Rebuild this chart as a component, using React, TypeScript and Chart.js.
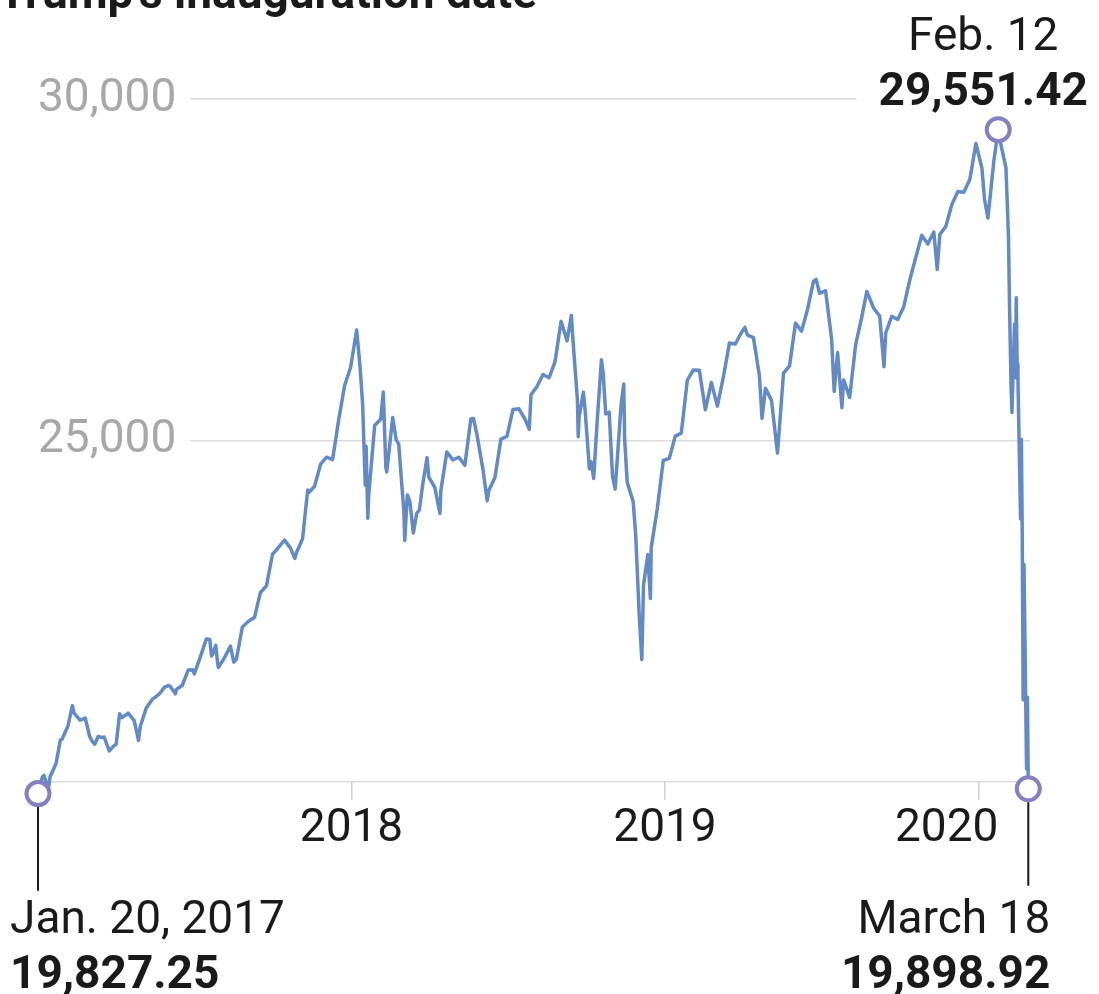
import React, { useEffect, useRef } from "react";
import { Chart, registerables } from "chart.js";

Chart.register(...registerables);

// Dow Jones Industrial Average closes
const dates: string[] = [
  "2017-01-20","2017-01-25","2017-01-27","2017-02-01","2017-02-03","2017-02-10","2017-02-15","2017-02-17","2017-02-24","2017-03-01",
  "2017-03-03","2017-03-10","2017-03-16","2017-03-21","2017-03-24","2017-03-27","2017-03-31","2017-04-05","2017-04-07","2017-04-13",
  "2017-04-18","2017-04-21","2017-04-25","2017-04-28","2017-05-05","2017-05-12","2017-05-17","2017-05-19","2017-05-26","2017-06-02",
  "2017-06-09","2017-06-13","2017-06-16","2017-06-21","2017-06-23","2017-06-29","2017-06-30","2017-07-07","2017-07-14","2017-07-19",
  "2017-07-21","2017-07-28","2017-08-04","2017-08-08","2017-08-10","2017-08-11","2017-08-15","2017-08-17","2017-08-18","2017-08-25",
  "2017-09-01","2017-09-05","2017-09-08","2017-09-15","2017-09-22","2017-09-29","2017-10-06","2017-10-13","2017-10-20","2017-10-27",
  "2017-11-03","2017-11-10","2017-11-15","2017-11-17","2017-11-24","2017-11-30","2017-12-01","2017-12-08","2017-12-15","2017-12-22",
  "2017-12-29",
  "2018-01-05","2018-01-12","2018-01-19","2018-01-26","2018-01-30","2018-02-02","2018-02-05","2018-02-06","2018-02-08","2018-02-09",
  "2018-02-16","2018-02-23","2018-02-26","2018-03-01","2018-03-02","2018-03-09","2018-03-13","2018-03-16","2018-03-22","2018-03-23",
  "2018-03-26","2018-03-29","2018-04-02","2018-04-06","2018-04-09","2018-04-13","2018-04-18","2018-04-20","2018-04-27","2018-05-03",
  "2018-05-04","2018-05-11","2018-05-18","2018-05-25","2018-06-01","2018-06-08","2018-06-11","2018-06-15","2018-06-22","2018-06-27",
  "2018-06-29","2018-07-06","2018-07-13","2018-07-20","2018-07-27","2018-08-03","2018-08-10","2018-08-15","2018-08-17","2018-08-24",
  "2018-08-31","2018-09-07","2018-09-14","2018-09-21","2018-09-28","2018-10-03","2018-10-05","2018-10-10","2018-10-11","2018-10-12",
  "2018-10-17","2018-10-19","2018-10-24","2018-10-26","2018-10-29","2018-11-02","2018-11-07","2018-11-09","2018-11-12","2018-11-16",
  "2018-11-20","2018-11-23","2018-11-30","2018-12-03","2018-12-04","2018-12-07","2018-12-14","2018-12-17","2018-12-21","2018-12-24",
  "2018-12-26","2018-12-28","2018-12-31",
  "2019-01-03","2019-01-04","2019-01-11","2019-01-18","2019-01-25","2019-02-01","2019-02-08","2019-02-15","2019-02-22","2019-03-01",
  "2019-03-08","2019-03-15","2019-03-22","2019-03-29","2019-04-05","2019-04-12","2019-04-18","2019-04-23","2019-04-26","2019-05-03",
  "2019-05-10","2019-05-13","2019-05-17","2019-05-24","2019-05-31","2019-06-07","2019-06-14","2019-06-21","2019-06-28","2019-07-05",
  "2019-07-12","2019-07-15","2019-07-19","2019-07-26","2019-08-02","2019-08-05","2019-08-09","2019-08-14","2019-08-16","2019-08-23",
  "2019-08-30","2019-09-06","2019-09-12","2019-09-20","2019-09-27","2019-10-02","2019-10-04","2019-10-11","2019-10-18","2019-10-25",
  "2019-11-01","2019-11-08","2019-11-15","2019-11-22","2019-11-29","2019-12-03","2019-12-06","2019-12-13","2019-12-20","2019-12-27",
  "2020-01-03","2020-01-10","2020-01-17","2020-01-24","2020-01-27","2020-01-31","2020-02-07","2020-02-12","2020-02-14","2020-02-21",
  "2020-02-24","2020-02-25","2020-02-27","2020-02-28","2020-03-02","2020-03-03","2020-03-04","2020-03-05","2020-03-06","2020-03-09",
  "2020-03-10","2020-03-11","2020-03-12","2020-03-13","2020-03-16","2020-03-17","2020-03-18",
];

const closes: number[] = [
  19827.25,20069,20094,19891,20071,20269,20611,20624,20822,21115,
  21006,20903,20934,20669,20597,20551,20663,20648,20656,20453,
  20523,20548,20997,20941,21007,20897,20606,20805,21080,21206,
  21272,21329,21384,21411,21395,21288,21350,21414,21638,21641,
  21580,21830,22092,22085,21844,21858,21999,21750,21674,21814,
  21988,21753,21798,22268,22350,22405,22773,22871,23329,23434,
  23539,23422,23272,23358,23558,24272,24231,24329,24651,24754,
  24719,
  25295,25803,26072,26616,26077,25521,24346,24913,23860,24191,
  25219,25310,25709,24609,24538,25336,25008,24946,23958,23533,
  24202,24103,23644,23933,23979,24360,24748,24463,24311,23930,
  24263,24831,24715,24753,24635,25317,25322,25090,24580,24117,
  24271,24456,25019,25058,25451,25463,25313,25162,25669,25790,
  25965,25917,26154,26743,26458,26828,26447,25599,25053,25340,
  25706,25444,24584,24688,24443,25271,26181,25989,25388,25413,
  24466,24286,25538,25826,25027,24389,24101,23593,22445,21792,
  22878,23062,23327,
  22686,23433,23996,24706,24737,25063,25106,25883,26031,26026,
  25450,25849,25502,25929,26425,26412,26559,26656,26543,26505,
  25942,25324,25764,25586,24815,25984,26090,26719,26600,26922,
  27332,27359,27154,27192,26485,25718,26287,25479,25886,25629,
  26403,26797,27182,26935,26820,26079,26573,26817,26770,26958,
  27347,27681,28005,27876,28051,27503,28015,28135,28455,28645,
  28634,28824,29348,28990,28536,28256,29103,29551.42,29398,28992,
  27961,27081,25766,25409,26703,25917,27091,26121,25865,23851,
  25018,23553,21200,23185,20189,21237,19898.92,
];

// Annotated dates (text as printed)
const markerDateLabels: string[] = ["Jan. 20, 2017", "Feb. 12", "March 18"];

// Axis ticks
const yTickValues: number[] = [20000, 25000, 30000];
const yTickLabels: string[] = ["", "25,000", "30,000"];
const yearTickDates: string[] = ["2018-01-20", "2019-01-20", "2020-01-20"];
const yearLabelDates: string[] = ["2018-01-20", "2019-01-20", "2019-12-14"];
const yearLabels: string[] = ["2018", "2019", "2020"];
const titleText = "Trump\u2019s inauguration date";

const ORIGIN = Date.UTC(2017, 0, 20);
const toDay = (s: string): number => {
  const [y, m, d] = s.split("-").map(Number);
  return (Date.UTC(y, m - 1, d) - ORIGIN) / 86400000;
};

const FONT = "Roboto, 'Liberation Sans', sans-serif";
const POINT_R = 11.5;
const POINT_BW = 4;

export default function App() {
  const ref = useRef<HTMLCanvasElement | null>(null);

  useEffect(() => {
    document.body.style.margin = "0";
    const canvas = ref.current;
    if (!canvas) return;

    const points = dates.map((d, i) => ({ x: toDay(d), y: closes[i] }));
    const lastIdx = points.length - 1;
    let peakIdx = 0;
    closes.forEach((v, i) => { if (v > closes[peakIdx]) peakIdx = i; });
    const markerIdx = [0, peakIdx, lastIdx];
    const xMax = toDay(dates[lastIdx]) + 2;
    const fmt = (v: number) =>
      v.toLocaleString("en-US", { minimumFractionDigits: 2, maximumFractionDigits: 2 });

    const annotate = {
      id: "annotate",
      afterDatasetsDraw(chart: any) {
        const { ctx, chartArea } = chart;
        const xs = chart.scales.x;
        const ys = chart.scales.y;
        const px = (i: number) => xs.getPixelForValue(points[i].x);
        const py = (i: number) => ys.getPixelForValue(points[i].y);
        ctx.save();
        ctx.fillStyle = "#1a1a1a";
        ctx.strokeStyle = "#1a1a1a";
        ctx.textBaseline = "alphabetic";

        // title (cut off at the top edge)
        ctx.font = `bold 46px ${FONT}`;
        ctx.textAlign = "right";
        ctx.fillText(titleText, 537, 8);

        // connectors
        ctx.lineWidth = 2;
        const r = POINT_R + POINT_BW / 2;
        ctx.beginPath();
        ctx.moveTo(px(0), py(0) + r);
        ctx.lineTo(px(0), chartArea.bottom + 109);
        ctx.moveTo(px(lastIdx), py(lastIdx) + r);
        ctx.lineTo(px(lastIdx), chartArea.bottom + 104);
        ctx.stroke();

        // start label
        const b1 = chartArea.bottom + 151;
        const b2 = chartArea.bottom + 206;
        ctx.textAlign = "left";
        ctx.font = `46px ${FONT}`;
        ctx.fillText(markerDateLabels[0], px(0) - 28, b1);
        ctx.font = `bold 46px ${FONT}`;
        ctx.fillText(fmt(closes[0]), px(0) - 28, b2);

        // end label
        ctx.textAlign = "right";
        ctx.font = `46px ${FONT}`;
        ctx.fillText(markerDateLabels[2], px(lastIdx) + 22, b1);
        ctx.font = `bold 46px ${FONT}`;
        ctx.fillText(fmt(closes[lastIdx]), px(lastIdx) + 22, b2);

        // peak label
        const cx = px(peakIdx) - 15;
        ctx.textAlign = "center";
        ctx.font = `46px ${FONT}`;
        ctx.fillText(markerDateLabels[1], cx, chartArea.top - 49);
        ctx.font = `bold 46px ${FONT}`;
        const peakText = fmt(closes[peakIdx]);
        const w = ctx.measureText(peakText).width;
        ctx.fillStyle = "#ffffff";
        ctx.fillRect(cx - w / 2 - 22, chartArea.top - 30, w + 30, 40);
        ctx.fillStyle = "#1a1a1a";
        ctx.fillText(peakText, cx, chartArea.top + 6);
        ctx.restore();
      },
    };

    const chart = new Chart(canvas, {
      type: "line",
      data: {
        datasets: [
          {
            data: points,
            borderColor: "rgb(100,138,198)",
            borderWidth: 3.5,
            borderJoinStyle: "round",
            tension: 0,
            clip: false,
            pointRadius: (c: any) => (markerIdx.includes(c.dataIndex) ? POINT_R : 0),
            pointHoverRadius: 0,
            pointBorderWidth: POINT_BW,
            pointBorderColor: "rgb(132,128,194)",
            pointBackgroundColor: "#ffffff",
          },
        ],
      },
      options: {
        responsive: false,
        animation: false,
        events: [],
        layout: { padding: { left: 38, right: 69, top: 99, bottom: 135 } },
        plugins: { legend: { display: false }, tooltip: { enabled: false } },
        scales: {
          x: {
            type: "linear",
            min: 0,
            max: xMax,
            position: "bottom",
            weight: 0,
            border: { display: false },
            grid: { display: true, drawOnChartArea: false, drawTicks: true, tickLength: 18, color: "#cfcfcf", lineWidth: 1.5 },
            ticks: { display: false },
            afterBuildTicks: (s: any) => { s.ticks = yearTickDates.map((d) => ({ value: toDay(d) })); },
          },
          x2: {
            type: "linear",
            min: 0,
            max: xMax,
            position: "bottom",
            weight: 1,
            border: { display: false },
            grid: { display: false, drawTicks: false },
            ticks: {
              padding: 2,
              autoSkip: false,
              maxRotation: 0,
              color: "#1a1a1a",
              font: { family: FONT, size: 46 },
              callback: (_v: any, i: number) => yearLabels[i],
            },
            afterBuildTicks: (s: any) => { s.ticks = yearLabelDates.map((d) => ({ value: toDay(d) })); },
          },
          y: {
            type: "linear",
            min: yTickValues[0],
            max: yTickValues[yTickValues.length - 1],
            position: "left",
            border: { display: false },
            grid: { color: "#dcdcdc", lineWidth: 1.5, drawTicks: false },
            afterBuildTicks: (s: any) => { s.ticks = yTickValues.map((v) => ({ value: v })); },
            ticks: {
              mirror: true,
              padding: 0,
              color: "#a8a8a8",
              font: { family: FONT, size: 46 },
              callback: (v: any) => yTickLabels[yTickValues.indexOf(Number(v))],
              showLabelBackdrop: (c: any) => c.tick && c.tick.value !== yTickValues[0],
              backdropColor: "#ffffff",
              backdropPadding: { left: 3, right: 14, top: 2, bottom: 2 },
            },
          },
        },
      } as any,
      plugins: [annotate],
    });

    return () => chart.destroy();
  }, []);

  return (
    <div style={{ width: 1099, height: 994, background: "#fff" }}>
      <canvas ref={ref} width={1099} height={994} style={{ display: "block" }} />
    </div>
  );
}
